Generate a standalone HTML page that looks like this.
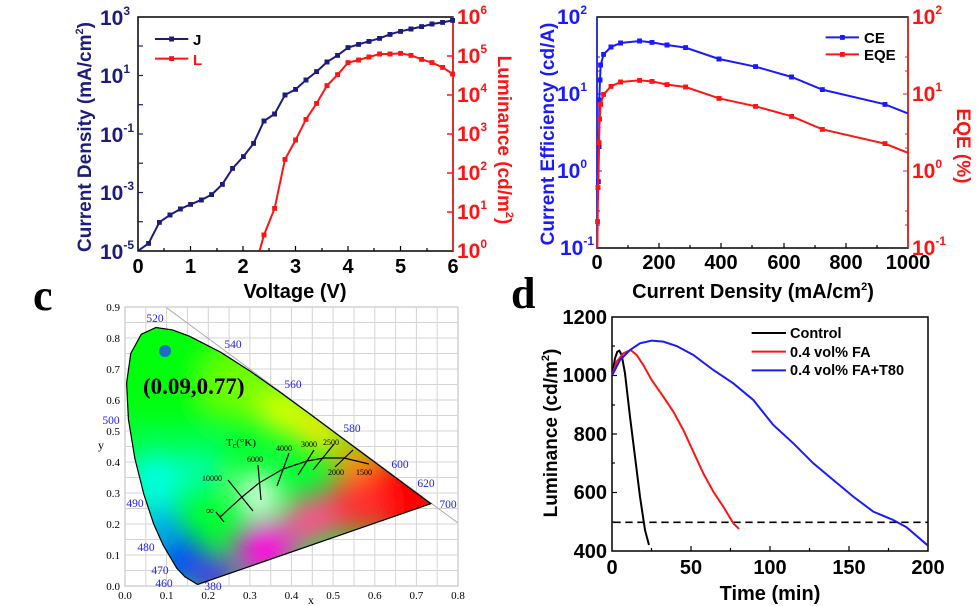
<!DOCTYPE html>
<html><head><meta charset="utf-8"><style>
html,body{margin:0;padding:0;background:#fff;}
svg{display:block;}
.b{font-family:"Liberation Sans",Arial,sans-serif;font-weight:bold;}
.s{font-family:"Liberation Serif","Times New Roman",serif;}
</style></head><body>
<svg width="978" height="606" viewBox="0 0 978 606" xmlns="http://www.w3.org/2000/svg">
<defs>
<marker id="mn" viewBox="0 0 10 10" refX="5" refY="5" markerWidth="15" markerHeight="15" markerUnits="userSpaceOnUse"><rect width="10" height="10" fill="#1c1c7c"/></marker>
<marker id="mr" viewBox="0 0 10 10" refX="5" refY="5" markerWidth="15" markerHeight="15" markerUnits="userSpaceOnUse"><rect width="10" height="10" fill="#ff1414"/></marker>
<marker id="mb" viewBox="0 0 10 10" refX="5" refY="5" markerWidth="15" markerHeight="15" markerUnits="userSpaceOnUse"><rect width="10" height="10" fill="#1a1aff"/></marker>
<clipPath id="hs"><path d="M197.5,584.5 L184.9,576.8 L176.7,568.1 L163,544.9 L153.6,523.8 L143.9,494.5 L134.8,458.1 L128.4,419.1 L126.6,383 L130.8,353.4 L141.2,334.3 L155.9,327.5 L172.5,329.9 L189.4,336.2 L220.6,352.2 L250.5,371.4 L280.3,392.4 L309.9,414 L338.3,435.2 L364.4,454.5 L386,470.5 L412.8,490.4 L430.8,503.7 Z"/></clipPath>
<filter id="bl" x="-50%" y="-50%" width="200%" height="200%"><feGaussianBlur stdDeviation="14"/></filter>
</defs>

<!-- ============ Panel a ============ -->
<rect x="138" y="17" width="315" height="234" fill="none" stroke="#000" stroke-width="1.5"/>
<g stroke="#000" stroke-width="1.2">
<line x1="190.5" y1="251" x2="190.5" y2="246"/><line x1="243" y1="251" x2="243" y2="246"/><line x1="295.5" y1="251" x2="295.5" y2="246"/><line x1="348" y1="251" x2="348" y2="246"/><line x1="400.5" y1="251" x2="400.5" y2="246"/>
<line x1="164" y1="251" x2="164" y2="248"/><line x1="217" y1="251" x2="217" y2="248"/><line x1="269" y1="251" x2="269" y2="248"/><line x1="322" y1="251" x2="322" y2="248"/><line x1="374" y1="251" x2="374" y2="248"/><line x1="427" y1="251" x2="427" y2="248"/>
</g>
<g stroke="#1c1c7c" stroke-width="1.2">
<line x1="138" y1="46" x2="143" y2="46"/><line x1="138" y1="75.5" x2="143" y2="75.5"/><line x1="138" y1="104.7" x2="143" y2="104.7"/><line x1="138" y1="134" x2="143" y2="134"/><line x1="138" y1="163.2" x2="143" y2="163.2"/><line x1="138" y1="192.5" x2="143" y2="192.5"/><line x1="138" y1="221.7" x2="143" y2="221.7"/>
</g>
<g stroke="#ff1414" stroke-width="1.5">
<line x1="453" y1="17" x2="453" y2="251"/>
<line x1="453" y1="56" x2="447" y2="56"/><line x1="453" y1="95" x2="447" y2="95"/><line x1="453" y1="134" x2="447" y2="134"/><line x1="453" y1="173" x2="447" y2="173"/><line x1="453" y1="212" x2="447" y2="212"/>
</g>
<g transform="scale(0.3333)" fill="none">
<polyline stroke="#1c1c7c" stroke-width="6" marker-mid="url(#mn)" marker-end="url(#mn)" points="415,752 446,730 478,667 510,645 541,627 572,613 604,600 635,584 667,553 698,505 730,470 761,430 792,363 824,342 855,285 887,268 918,240 950,215 981,186 1013,166 1044,143 1076,133 1107,124 1139,115 1170,103 1202,94 1233,87 1265,80 1296,72 1328,67 1358,61"/>
<polyline stroke="#ff1414" stroke-width="6" marker-mid="url(#mr)" marker-end="url(#mr)" points="779,752 792,705 824,625 855,478 887,420 918,358 950,310 981,257 1013,224 1044,188 1076,180 1107,171 1139,162 1170,162 1202,160 1233,166 1265,178 1296,188 1328,202 1358,222"/>
<polyline points="465,117 515,117 565,117" stroke="#1c1c7c" stroke-width="6" marker-mid="url(#mn)"/>
<polyline points="465,176 515,176 565,176" stroke="#ff1414" stroke-width="6" marker-mid="url(#mr)"/>
</g>
<text class="b" x="193" y="45" font-size="15" fill="#000">J</text>
<text class="b" x="193" y="65" font-size="15" fill="#ff1414">L</text>
<g class="b" font-size="21" fill="#1c1c7c" text-anchor="end">
<text x="130" y="25">10<tspan font-size="12" dy="-10">3</tspan></text>
<text x="130" y="83">10<tspan font-size="12" dy="-10">1</tspan></text>
<text x="134" y="142">10<tspan font-size="12" dy="-10">-1</tspan></text>
<text x="134" y="200">10<tspan font-size="12" dy="-10">-3</tspan></text>
<text x="134" y="259">10<tspan font-size="12" dy="-10">-5</tspan></text>
</g>
<g class="b" font-size="21" fill="#ff1414">
<text x="457" y="258">10<tspan font-size="12" dy="-10">0</tspan></text>
<text x="457" y="219">10<tspan font-size="12" dy="-10">1</tspan></text>
<text x="457" y="180">10<tspan font-size="12" dy="-10">2</tspan></text>
<text x="457" y="141">10<tspan font-size="12" dy="-10">3</tspan></text>
<text x="457" y="102">10<tspan font-size="12" dy="-10">4</tspan></text>
<text x="457" y="63">10<tspan font-size="12" dy="-10">5</tspan></text>
<text x="457" y="24">10<tspan font-size="12" dy="-10">6</tspan></text>
</g>
<g class="b" font-size="20" fill="#000" text-anchor="middle">
<text x="138" y="273">0</text><text x="190.5" y="273">1</text><text x="243" y="273">2</text><text x="295.5" y="273">3</text><text x="348" y="273">4</text><text x="400.5" y="273">5</text><text x="453" y="273">6</text>
<text x="295" y="298">Voltage (V)</text>
</g>
<text class="b" font-size="19" fill="#1c1c7c" text-anchor="middle" transform="translate(91,137) rotate(-90)">Current Density (mA/cm<tspan font-size="11" dy="-8">2</tspan><tspan dy="8">)</tspan></text>
<text class="b" font-size="19" fill="#ff1414" text-anchor="middle" transform="translate(498,140) rotate(90)">Luminance (cd/m<tspan font-size="11" dy="-8">2</tspan><tspan dy="8">)</tspan></text>

<!-- ============ Panel b ============ -->
<rect x="597" y="17" width="311" height="231" fill="none" stroke="#000" stroke-width="1.5"/>
<line x1="597" y1="17" x2="597" y2="248" stroke="#1a1aff" stroke-width="1.5"/>
<line x1="908" y1="17" x2="908" y2="248" stroke="#ff1414" stroke-width="1.5"/>
<g stroke="#000" stroke-width="1.2">
<line x1="659" y1="248" x2="659" y2="243"/><line x1="721" y1="248" x2="721" y2="243"/><line x1="784" y1="248" x2="784" y2="243"/><line x1="846" y1="248" x2="846" y2="243"/>
<line x1="628" y1="248" x2="628" y2="245"/><line x1="690" y1="248" x2="690" y2="245"/><line x1="752" y1="248" x2="752" y2="245"/><line x1="815" y1="248" x2="815" y2="245"/><line x1="877" y1="248" x2="877" y2="245"/>
</g>
<g stroke="#1a1aff" stroke-width="1"><line x1="597" y1="94" x2="602" y2="94"/><line x1="597" y1="171" x2="602" y2="171"/><line x1="597" y1="71" x2="600" y2="71"/><line x1="597" y1="148" x2="600" y2="148"/><line x1="597" y1="225" x2="600" y2="225"/><line x1="597" y1="57" x2="600" y2="57"/><line x1="597" y1="134" x2="600" y2="134"/><line x1="597" y1="211" x2="600" y2="211"/></g>
<g stroke="#ff1414" stroke-width="1"><line x1="908" y1="94" x2="903" y2="94"/><line x1="908" y1="171" x2="903" y2="171"/><line x1="908" y1="71" x2="905" y2="71"/><line x1="908" y1="148" x2="905" y2="148"/><line x1="908" y1="225" x2="905" y2="225"/><line x1="908" y1="57" x2="905" y2="57"/><line x1="908" y1="134" x2="905" y2="134"/><line x1="908" y1="211" x2="905" y2="211"/></g>
<g transform="translate(490,0) scale(0.3333)" fill="none">
<polyline stroke="#1a1aff" stroke-width="6" marker-mid="url(#mb)" points="324,600 325,545 327,440 328,300 330,240 332,195 341,163 363,141 392,129 449,123 486,127 531,135 587,143 687,177 797,200 905,231 997,269 1185,313 1253,340"/>
<polyline stroke="#ff1414" stroke-width="6" marker-mid="url(#mr)" points="322,743 323,665 324,563 327,428 329,357 332,313 341,283 363,259 392,246 449,241 486,244 531,254 587,261 687,295 797,319 905,349 997,388 1185,431 1253,458"/>
<polyline points="1007,112 1057,112 1107,112" stroke="#1a1aff" stroke-width="6" marker-mid="url(#mb)"/>
<polyline points="1007,163 1057,163 1107,163" stroke="#ff1414" stroke-width="6" marker-mid="url(#mr)"/>
</g>
<text class="b" x="864" y="43" font-size="15" fill="#000">CE</text>
<text class="b" x="864" y="60" font-size="15" fill="#000">EQE</text>
<g class="b" font-size="21" fill="#1a1aff" text-anchor="end">
<text x="587" y="24">10<tspan font-size="12" dy="-10">2</tspan></text>
<text x="587" y="101">10<tspan font-size="12" dy="-10">1</tspan></text>
<text x="587" y="178">10<tspan font-size="12" dy="-10">0</tspan></text>
<text x="594" y="255">10<tspan font-size="12" dy="-10">-1</tspan></text>
</g>
<g class="b" font-size="21" fill="#ff1414">
<text x="912" y="24">10<tspan font-size="12" dy="-10">2</tspan></text>
<text x="912" y="101">10<tspan font-size="12" dy="-10">1</tspan></text>
<text x="912" y="178">10<tspan font-size="12" dy="-10">0</tspan></text>
<text x="912" y="255">10<tspan font-size="12" dy="-10">-1</tspan></text>
</g>
<g class="b" font-size="20" fill="#000" text-anchor="middle">
<text x="597" y="269">0</text><text x="659" y="269">200</text><text x="721" y="269">400</text><text x="784" y="269">600</text><text x="846" y="269">800</text><text x="908" y="269">1000</text>
<text x="753" y="298">Current Density (mA/cm<tspan font-size="11" dy="-8">2</tspan><tspan dy="8">)</tspan></text>
</g>
<text class="b" font-size="19" fill="#1a1aff" text-anchor="middle" transform="translate(554,134) rotate(-90)">Current Efficiency (cd/A)</text>
<text class="b" font-size="19" fill="#ff1414" text-anchor="middle" transform="translate(957,146) rotate(90)">EQE (%)</text>

<!-- ============ Panel c ============ -->
<text x="33" y="310" font-family="Liberation Serif,serif" font-weight="bold" font-size="44" fill="#000">c</text>
<rect x="125" y="307" width="333" height="279" fill="#fff" stroke="#bbb" stroke-width="1"/>
<g stroke="#d4d4d4" stroke-width="1">
<line x1="145.8" y1="307" x2="145.8" y2="586"/><line x1="166.6" y1="307" x2="166.6" y2="586"/><line x1="187.4" y1="307" x2="187.4" y2="586"/><line x1="208.3" y1="307" x2="208.3" y2="586"/><line x1="229.1" y1="307" x2="229.1" y2="586"/><line x1="249.9" y1="307" x2="249.9" y2="586"/><line x1="270.7" y1="307" x2="270.7" y2="586"/><line x1="291.5" y1="307" x2="291.5" y2="586"/><line x1="312.3" y1="307" x2="312.3" y2="586"/><line x1="333.1" y1="307" x2="333.1" y2="586"/><line x1="354" y1="307" x2="354" y2="586"/><line x1="374.8" y1="307" x2="374.8" y2="586"/><line x1="395.6" y1="307" x2="395.6" y2="586"/><line x1="416.4" y1="307" x2="416.4" y2="586"/><line x1="437.2" y1="307" x2="437.2" y2="586"/>
<line x1="125" y1="570.5" x2="458" y2="570.5"/><line x1="125" y1="555" x2="458" y2="555"/><line x1="125" y1="539.5" x2="458" y2="539.5"/><line x1="125" y1="524" x2="458" y2="524"/><line x1="125" y1="508.5" x2="458" y2="508.5"/><line x1="125" y1="493" x2="458" y2="493"/><line x1="125" y1="477.5" x2="458" y2="477.5"/><line x1="125" y1="462" x2="458" y2="462"/><line x1="125" y1="446.5" x2="458" y2="446.5"/><line x1="125" y1="431" x2="458" y2="431"/><line x1="125" y1="415.5" x2="458" y2="415.5"/><line x1="125" y1="400" x2="458" y2="400"/><line x1="125" y1="384.5" x2="458" y2="384.5"/><line x1="125" y1="369" x2="458" y2="369"/><line x1="125" y1="353.5" x2="458" y2="353.5"/><line x1="125" y1="338" x2="458" y2="338"/><line x1="125" y1="322.5" x2="458" y2="322.5"/>
</g>
<line x1="167" y1="308" x2="458" y2="523" stroke="#aaa" stroke-width="1"/>
<g clip-path="url(#hs)">
<rect x="120" y="320" width="320" height="270" fill="#00ff30"/>
<g filter="url(#bl)">
<rect x="110" y="310" width="150" height="110" fill="#00ff10"/>
<circle cx="240" cy="385" r="35" fill="#70ff00"/>
<circle cx="285" cy="410" r="25" fill="#d8ff00"/>
<circle cx="320" cy="430" r="22" fill="#ffe800"/>
<circle cx="355" cy="460" r="22" fill="#ff9a00"/>
<circle cx="405" cy="495" r="45" fill="#ff0000"/>
<circle cx="355" cy="505" r="30" fill="#ff3030"/>
<circle cx="310" cy="520" r="25" fill="#ff5090"/>
<circle cx="265" cy="550" r="30" fill="#ff10e0"/>
<circle cx="215" cy="578" r="20" fill="#6010ff"/>
<circle cx="180" cy="560" r="25" fill="#0040ff"/>
<circle cx="160" cy="525" r="22" fill="#00a0ff"/>
<circle cx="155" cy="480" r="30" fill="#00ffe0"/>
<circle cx="200" cy="470" r="25" fill="#00ffa0"/>
<circle cx="258" cy="495" r="20" fill="#ffffff"/>
</g>
</g>
<path d="M197.5,584.5 L184.9,576.8 L176.7,568.1 L163,544.9 L153.6,523.8 L143.9,494.5 L134.8,458.1 L128.4,419.1 L126.6,383 L130.8,353.4 L141.2,334.3 L155.9,327.5 L172.5,329.9 L189.4,336.2 L220.6,352.2 L250.5,371.4 L280.3,392.4 L309.9,414 L338.3,435.2 L364.4,454.5 L386,470.5 L412.8,490.4 L430.8,503.7 L197.5,584.5" fill="none" stroke="#000" stroke-width="1.2"/>
<circle cx="165" cy="351" r="6" fill="#1a6fc4"/>
<text x="143" y="394" font-family="Liberation Serif,serif" font-weight="bold" font-size="23" fill="#000">(0.09,0.77)</text>
<path d="M220,517 L242,497 L259,483 L283,469 L307,461 L324,458 L344,458 L369,464" fill="none" stroke="#000" stroke-width="1.2"/>
<g stroke="#000" stroke-width="1.2">
<line x1="216" y1="512" x2="224" y2="522"/>
<line x1="228" y1="480" x2="253" y2="511"/><line x1="258" y1="465" x2="261" y2="500"/><line x1="289" y1="453" x2="277" y2="486"/><line x1="314" y1="450" x2="298" y2="475"/><line x1="334" y1="444" x2="313" y2="470"/><line x1="353" y1="450" x2="335" y2="467"/>
</g>
<g font-family="Liberation Serif,serif" fill="#000">
<text x="226" y="446" font-size="11">T<tspan font-size="8" dy="2">c</tspan><tspan dy="-2">(°K)</tspan></text>
<text x="202" y="481" font-size="8">10000</text><text x="247" y="462" font-size="8">6000</text><text x="276" y="451" font-size="8">4000</text><text x="301" y="447" font-size="8">3000</text><text x="323" y="445" font-size="8">2500</text><text x="328" y="475" font-size="8">2000</text><text x="356" y="475" font-size="8">1500</text>
<text x="206" y="514" font-size="11">∞</text>
</g>
<g font-family="Liberation Serif,serif" font-size="11.5" fill="#2222ee" text-anchor="middle">
<text x="155" y="322">520</text><text x="233" y="348">540</text><text x="293" y="388">560</text><text x="352" y="432">580</text><text x="400" y="468">600</text><text x="426" y="487">620</text><text x="448" y="508">700</text>
<text x="111" y="424">500</text><text x="135" y="507">490</text><text x="146" y="551">480</text><text x="160" y="574">470</text><text x="164" y="587">460</text><text x="213" y="590">380</text>
</g>
<g font-family="Liberation Serif,serif" font-size="11" fill="#000" text-anchor="end">
<text x="120" y="590">0.0</text><text x="120" y="559">0.1</text><text x="120" y="528">0.2</text><text x="120" y="497">0.3</text><text x="120" y="466">0.4</text><text x="120" y="435">0.5</text><text x="120" y="404">0.6</text><text x="120" y="373">0.7</text><text x="120" y="342">0.8</text><text x="120" y="311">0.9</text>
</g>
<g font-family="Liberation Serif,serif" font-size="11" fill="#000" text-anchor="middle">
<text x="125" y="599">0.0</text><text x="166.6" y="599">0.1</text><text x="208.3" y="599">0.2</text><text x="249.9" y="599">0.3</text><text x="291.5" y="599">0.4</text><text x="333.1" y="599">0.5</text><text x="374.8" y="599">0.6</text><text x="416.4" y="599">0.7</text><text x="458" y="599">0.8</text>
<text x="311" y="604" font-size="12">x</text><text x="101" y="449" font-size="12">y</text>
</g>

<!-- ============ Panel d ============ -->
<text x="511" y="308" font-family="Liberation Serif,serif" font-weight="bold" font-size="44" fill="#000">d</text>
<rect x="612" y="317" width="316" height="234" fill="none" stroke="#000" stroke-width="1.5"/>
<g stroke="#000" stroke-width="1.2">
<line x1="691" y1="551" x2="691" y2="546"/><line x1="770" y1="551" x2="770" y2="546"/><line x1="849" y1="551" x2="849" y2="546"/>
<line x1="651.5" y1="551" x2="651.5" y2="548"/><line x1="730.5" y1="551" x2="730.5" y2="548"/><line x1="809.5" y1="551" x2="809.5" y2="548"/><line x1="888.5" y1="551" x2="888.5" y2="548"/>
<line x1="612" y1="375.5" x2="617" y2="375.5"/><line x1="612" y1="434" x2="617" y2="434"/><line x1="612" y1="492.5" x2="617" y2="492.5"/>
<line x1="612" y1="346" x2="615" y2="346"/><line x1="612" y1="405" x2="615" y2="405"/><line x1="612" y1="463" x2="615" y2="463"/><line x1="612" y1="522" x2="615" y2="522"/>
</g>
<g transform="translate(500,290) scale(0.3333)" fill="none">
<line x1="340" y1="697" x2="1283" y2="697" stroke="#000" stroke-width="5" stroke-dasharray="22,14"/>
<polyline stroke="#000" stroke-width="6" points="337,255 345,205 352,185 358,182 365,195 375,250 390,380 405,500 420,620 435,720 447,765"/>
<polyline stroke="#ff1414" stroke-width="6" points="337,255 350,215 370,190 392,180 410,195 430,225 455,270 490,320 520,365 550,420 580,485 610,550 640,605 670,650 700,700 717,717"/>
<polyline stroke="#1a1aff" stroke-width="6" points="337,255 360,210 390,180 420,160 455,152 490,155 530,168 580,195 640,240 700,280 760,330 820,405 880,460 940,520 1000,570 1060,620 1120,665 1180,690 1220,712 1283,766"/>
<line x1="755" y1="129" x2="858" y2="129" stroke="#000" stroke-width="6"/>
<line x1="755" y1="185" x2="858" y2="185" stroke="#ff1414" stroke-width="6"/>
<line x1="755" y1="241" x2="858" y2="241" stroke="#1a1aff" stroke-width="6"/>
</g>
<g class="b" font-size="14.5" fill="#000">
<text x="790" y="338">Control</text><text x="790" y="357">0.4 vol% FA</text><text x="790" y="375">0.4 vol% FA+T80</text>
</g>
<g class="b" font-size="20" fill="#000" text-anchor="end">
<text x="607" y="324">1200</text><text x="607" y="382">1000</text><text x="607" y="441">800</text><text x="607" y="499">600</text><text x="607" y="558">400</text>
</g>
<g class="b" font-size="20" fill="#000" text-anchor="middle">
<text x="612" y="574">0</text><text x="691" y="574">50</text><text x="770" y="574">100</text><text x="849" y="574">150</text><text x="928" y="574">200</text>
<text x="770" y="600">Time (min)</text>
</g>
<text class="b" font-size="19" fill="#000" text-anchor="middle" transform="translate(557,433) rotate(-90)">Luminance (cd/m<tspan font-size="11" dy="-8">2</tspan><tspan dy="8">)</tspan></text>
</svg>
</body></html>
